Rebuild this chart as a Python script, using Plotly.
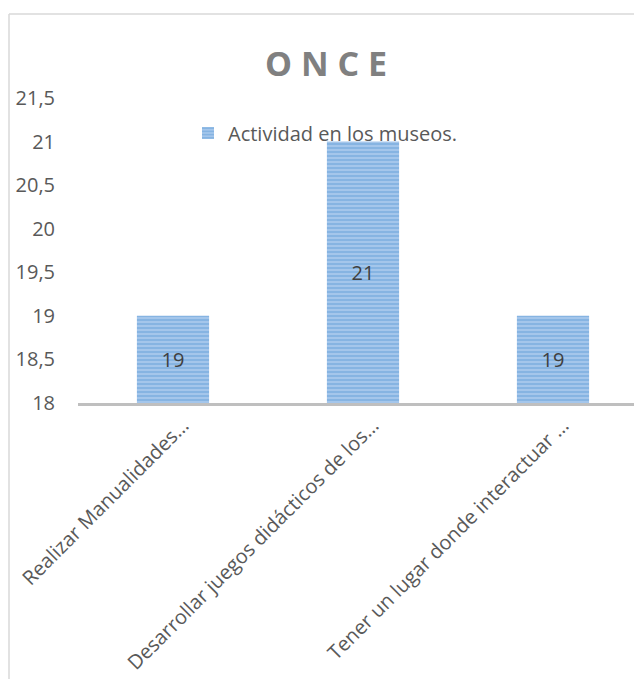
import plotly.graph_objects as go

categorias = [
    "Realizar Manualidades…",
    "Desarrollar juegos didácticos de los…",
    "Tener un lugar donde interactuar …",
]
valores = [19, 21, 19]
serie = "Actividad en los museos."
titulo = "O N C E"
y_min, y_max = 18, 21.5

# la página añade 8 px de margen al cuerpo, así que se descuentan aquí
W, H = 634, 671
left, top, bottom = 70, 90, 276
plot_w = W - left
plot_h = H - top - bottom

fig = go.Figure()
fig.add_trace(
    go.Bar(
        x=categorias,
        y=[v - y_min for v in valores],
        base=y_min,
        name=serie,
        width=0.38,
        text=valores,
        textposition="inside",
        insidetextanchor="middle",
        textfont=dict(size=20, color="#404040"),
        marker=dict(
            color="#b0cdee",
            line=dict(width=0),
            pattern=dict(shape="-", size=4, solidity=0.65, fgcolor="#5b9bd5", bgcolor="#b0cdee"),
        ),
        showlegend=True,
    )
)

# marco gris del gráfico
fx = (1 - left) / plot_w
fy = (H - bottom - 6) / plot_h
frame = dict(type="line", xref="paper", yref="paper", line=dict(color="#d9d9d9", width=1.5))

fig.update_layout(
    width=W,
    height=H,
    margin=dict(l=left, r=0, t=top, b=bottom),
    paper_bgcolor="white",
    plot_bgcolor="white",
    separators=",.",
    font=dict(family="Open Sans, sans-serif", size=20, color="#595959"),
    title=dict(
        text="<b>" + titulo + "</b>",
        x=318 / W,
        y=1 - 56 / H,
        xanchor="center",
        yanchor="middle",
        xref="container",
        yref="container",
        font=dict(size=34, color="#808080"),
    ),
    showlegend=True,
    legend=dict(
        x=(180 - left) / plot_w,
        y=(H - bottom - 125) / plot_h,
        xanchor="left",
        yanchor="middle",
        bgcolor="rgba(0,0,0,0)",
        font=dict(size=20, color="#595959"),
        itemwidth=30,
    ),
    xaxis=dict(
        range=[-0.5, -0.5 + plot_w / 190],
        tickangle=-45,
        showline=True,
        linecolor="#bfbfbf",
        linewidth=3,
        ticks="",
        showgrid=False,
        automargin=False,
        ticklabelshift=10,
        tickfont=dict(size=20, color="#595959"),
    ),
    yaxis=dict(
        range=[y_min, y_max],
        dtick=0.5,
        tick0=y_min,
        showline=False,
        showgrid=False,
        zeroline=False,
        ticks="",
        automargin=False,
        ticklabelstandoff=22,
        tickfont=dict(size=20, color="#595959"),
    ),
    shapes=[
        dict(frame, x0=fx, x1=fx, y0=fy, y1=-1.5),
        dict(frame, x0=fx, x1=1.2, y0=fy, y1=fy),
    ],
)

fig.write_html("out.html")
